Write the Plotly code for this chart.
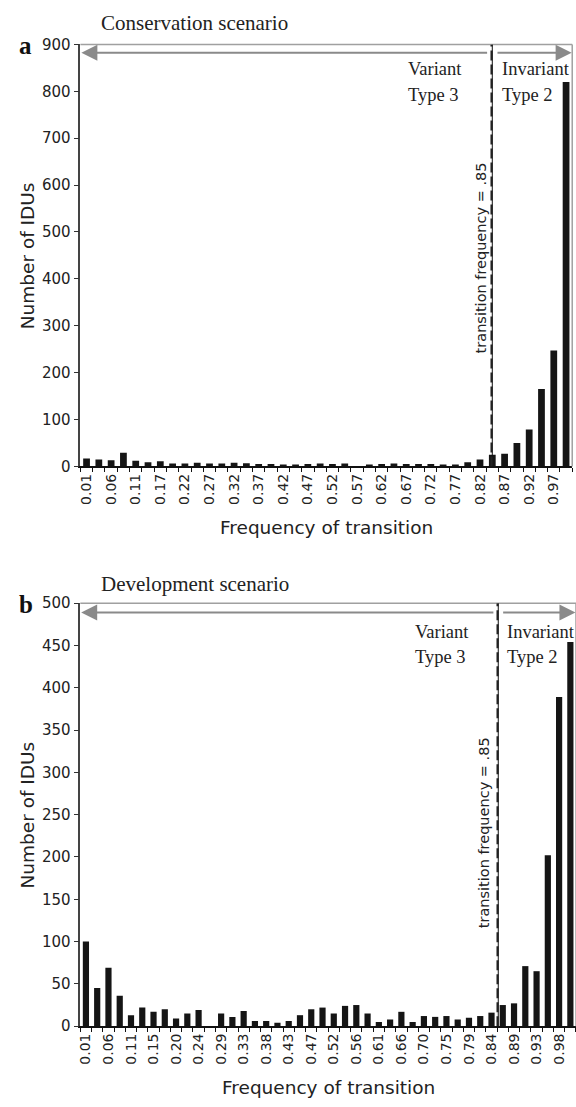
import plotly.graph_objects as go

# ---------------- data ----------------
top_labels = ["0.01", "0.06", "0.11", "0.17", "0.22", "0.27", "0.32", "0.37", "0.42", "0.47",
              "0.52", "0.57", "0.62", "0.67", "0.72", "0.77", "0.82", "0.87", "0.92", "0.97"]
top_counts = [17, 15, 13, 29, 12, 9, 11, 6, 6, 8,
              6, 6, 8, 7, 5, 5, 4, 4, 5, 6,
              5, 6, 0, 4, 5, 6, 5, 5, 5, 4,
              4, 9, 15, 25, 27, 50, 79, 165, 247, 820]

bottom_labels = ["0.01", "0.06", "0.11", "0.15", "0.20", "0.24", "0.29", "0.33", "0.38", "0.43", "0.47",
                 "0.52", "0.56", "0.61", "0.66", "0.70", "0.75", "0.79", "0.84", "0.89", "0.93", "0.98"]
bottom_counts = [100, 45, 69, 36, 13, 22, 17, 20, 9, 15, 19,
                 0, 15, 11, 18, 6, 6, 4, 6, 13, 20, 22,
                 15, 24, 25, 15, 5, 8, 17, 5, 12, 11,
                 12, 8, 10, 12, 16, 25, 27, 71, 65, 202, 389, 454]

top_threshold_pos = 33.0     # position of the .85 line (bar index units)
bottom_threshold_pos = 36.6

W, H = 576, 1107
BAR = "#151515"
GREY = "#8a8a8a"
SANS = "DejaVu Sans"
SERIF = "Liberation Serif"


def fx(p):
    return p / W


def fy(p):
    return 1 - p / H


panels = [
    dict(labels=top_labels, counts=top_counts, thr=top_threshold_pos, ymax=900, dtick=100,
         xdom=(77.8, 572.2), ydom=(36, 465), title="Conservation scenario", letter="a",
         title_dy=22, arrow_y=882, line1_dy=25, line2_dy=51, var_dx=7.0, rot_y=445, rot_dx=0.95,
         inv_dx=0.6, xa="x", ya="y"),
    dict(labels=bottom_labels, counts=bottom_counts, thr=bottom_threshold_pos, ymax=500, dtick=50,
         xdom=(77.7, 576.0), ydom=(604, 1034), title="Development scenario", letter="b",
         title_dy=19, arrow_y=489, line1_dy=29, line2_dy=55, var_dx=7.6, rot_y=229, rot_dx=1.2,
         inv_dx=0.6, xa="x2", ya="y2"),
]

fig = go.Figure()
annotations = []
shapes = []
layout = {}

for k, p in enumerate(panels):
    n = len(p["counts"])
    xs = list(range(n))
    fig.add_trace(go.Bar(x=xs, y=p["counts"], marker=dict(color=BAR, line=dict(width=0)),
                         width=0.55, xaxis=p["xa"], yaxis=p["ya"], showlegend=False,
                         hoverinfo="x+y"))
    xname = "xaxis" if k == 0 else "xaxis2"
    yname = "yaxis" if k == 0 else "yaxis2"
    layout[xname] = dict(
        domain=[fx(p["xdom"][0]), fx(p["xdom"][1])],
        range=[-0.5, n - 0.5], anchor=p["ya"],
        tickmode="array", tickvals=xs[::2], ticktext=p["labels"], tickangle=-90,
        ticks="", showline=True, linecolor="#111", linewidth=1.5,
        showgrid=False, zeroline=False,
        tickfont=dict(family=SANS, size=14, color="#222"),
        minor=dict(tickmode="array", tickvals=[i - 0.5 for i in range(n + 1)],
                   ticks="outside", ticklen=4, tickcolor="#111", tickwidth=1),
    )
    layout[yname] = dict(
        domain=[fy(p["ydom"][1]), fy(p["ydom"][0])],
        range=[0, p["ymax"]], dtick=p["dtick"], anchor=p["xa"],
        ticks="outside", ticklen=5, tickcolor="#333", showline=True, linecolor="#444",
        linewidth=1.5, showgrid=False, zeroline=False,
        tickfont=dict(family=SANS, size=15, color="#222"),
    )
    xd = p["xa"] + " domain"
    yd = p["ya"] + " domain"
    # grey frame on top and right
    shapes.append(dict(type="line", xref=xd, yref=yd, x0=0, x1=1, y0=1, y1=1,
                       line=dict(color="#a0a0a0", width=1.5)))
    shapes.append(dict(type="line", xref=xd, yref=yd, x0=1, x1=1, y0=0, y1=1,
                       line=dict(color="#a0a0a0", width=1.5)))
    # threshold line
    shapes.append(dict(type="line", xref=p["xa"], yref=p["ya"], x0=p["thr"], x1=p["thr"],
                       y0=0, y1=p["ymax"], line=dict(color="#111", width=1)))
    shapes.append(dict(type="line", xref=p["xa"], yref=p["ya"], x0=p["thr"] - 0.06, x1=p["thr"] - 0.06,
                       y0=0, y1=p["ymax"], line=dict(color="#222", width=2.2, dash="10px,4px")))
    # arrows
    annotations.append(dict(x=-0.42, y=p["arrow_y"], ax=p["thr"] - 0.3, ay=p["arrow_y"],
                            xref=p["xa"], yref=p["ya"], axref=p["xa"], ayref=p["ya"],
                            text="", showarrow=True, arrowhead=2, arrowsize=1.6,
                            arrowwidth=2, arrowcolor=GREY))
    annotations.append(dict(x=n - 0.55, y=p["arrow_y"], ax=p["thr"] + 0.3, ay=p["arrow_y"],
                            xref=p["xa"], yref=p["ya"], axref=p["xa"], ayref=p["ya"],
                            text="", showarrow=True, arrowhead=2, arrowsize=1.6,
                            arrowwidth=2, arrowcolor=GREY))
    # region labels (two lines each, left aligned)
    top_px = p["ydom"][0]
    for txt_l, txt_r, dy in (("Variant", "Invariant", p["line1_dy"]), ("Type 3", "Type 2", p["line2_dy"])):
        annotations.append(dict(x=p["thr"] - p["var_dx"],
                                y=fy(top_px + dy), xref=p["xa"], yref="paper",
                                text=txt_l, showarrow=False, xanchor="left", yanchor="middle",
                                font=dict(family=SERIF, size=18.5, color="#222")))
        annotations.append(dict(x=p["thr"] + p["inv_dx"], y=fy(top_px + dy), xref=p["xa"], yref="paper",
                                text=txt_r, showarrow=False, xanchor="left", yanchor="middle",
                                font=dict(family=SERIF, size=18.5, color="#222")))
    # rotated threshold text
    annotations.append(dict(x=p["thr"] - p["rot_dx"], y=p["rot_y"],
                            xref=p["xa"], yref=p["ya"],
                            text="transition frequency = .85", textangle=-90, showarrow=False,
                            xanchor="center", yanchor="middle",
                            font=dict(family=SANS, size=14.5, color="#222")))
    # titles
    annotations.append(dict(x=fx(97), y=fy(p["ydom"][0] - p["title_dy"]), xref="paper", yref="paper",
                            text=p["title"], showarrow=False, xanchor="left", yanchor="middle",
                            font=dict(family=SERIF, size=21, color="#222")))
    annotations.append(dict(x=fx(23), y=fy(p["ydom"][0] + 1), xref="paper", yref="paper",
                            text="<b>" + p["letter"] + "</b>", showarrow=False, xanchor="center",
                            yanchor="middle", font=dict(family=SERIF, size=25, color="#111")))
    # axis titles
    annotations.append(dict(x=fx(25), y=fy((p["ydom"][0] + p["ydom"][1]) / 2), xref="paper",
                            yref="paper", text="Number of IDUs", textangle=-90, showarrow=False,
                            xanchor="center", yanchor="middle",
                            font=dict(family=SANS, size=18.5, color="#222")))
    annotations.append(dict(x=fx((p["xdom"][0] + p["xdom"][1]) / 2), y=fy(p["ydom"][1] + 62),
                            xref="paper", yref="paper", text="Frequency of transition",
                            showarrow=False, xanchor="center", yanchor="middle",
                            font=dict(family=SANS, size=18.5, color="#222")))

fig.update_layout(
    width=W, height=H, margin=dict(l=0, r=0, t=0, b=0),
    paper_bgcolor="white", plot_bgcolor="white",
    annotations=annotations, shapes=shapes, bargap=0.45, **layout,
)

fig.write_html(
    "out.html",
    config={"displayModeBar": False},
    post_script="document.body.style.margin='0px';document.body.style.overflow='hidden';"
                "document.documentElement.style.overflow='hidden';",
)
